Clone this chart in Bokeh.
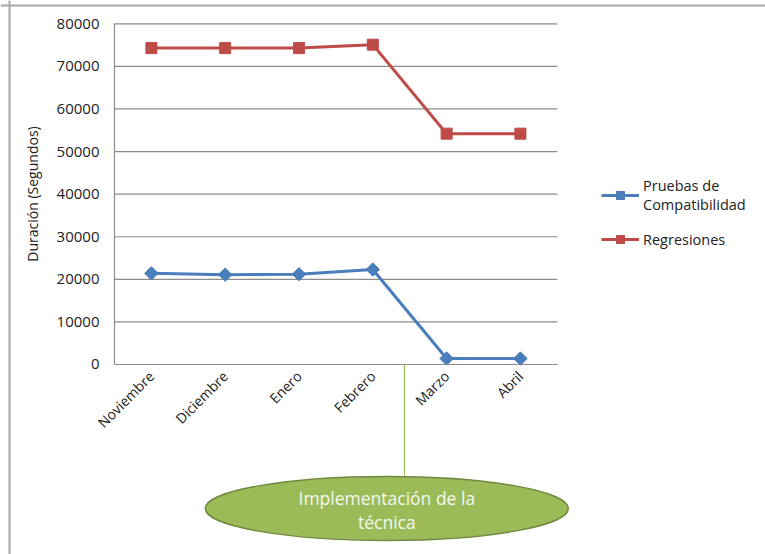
import numpy as np
from bokeh.plotting import figure
from bokeh.models import (LinearAxis, FixedTicker, Range1d, ColumnDataSource,
                          Legend, LegendItem, Span)
from bokeh.core.properties import value
from bokeh.embed import file_html
from bokeh.resources import INLINE

# ---- data ----
months = ["Noviembre", "Diciembre", "Enero", "Febrero", "Marzo", "Abril"]
pruebas = [21400, 21100, 21200, 22300, 1400, 1400]
regresiones = [74300, 74300, 74300, 75100, 54200, 54200]
y_ticks = [0, 10000, 20000, 30000, 40000, 50000, 60000, 70000, 80000]
legend_pruebas = "Pruebas de\nCompatibilidad"
legend_regresiones = "Regresiones"
callout_lines = ["Implementación de la", "técnica"]

# ---- annotation placement (data units) ----
marker_x = 4.43          # vertical connector between Febrero and Marzo
marker_bottom = -26064
ellipse_x = 4.19
ellipse_y = -33813

W, H = 765, 554
FONT = "Open Sans"

xpos = list(range(1, len(months) + 1))

p = figure(width=W, height=H, output_backend="svg", toolbar_location=None,
           x_axis_type=None, y_axis_type=None,
           x_range=Range1d(-1.0447, 9.3212), y_range=Range1d(-44614, 85471))
p.min_border = 0
p.min_border_left = 0
p.min_border_right = 0
p.min_border_top = 0
p.min_border_bottom = 0
p.outline_line_color = None
p.background_fill_color = "white"
p.border_fill_color = "white"

grid_color = "#8C8C8C"
text_color = "#222222"

# gridlines
gl = y_ticks[1:]
p.segment(x0=[0.5] * len(gl), x1=[6.5] * len(gl), y0=gl, y1=gl,
          line_color=grid_color, line_width=1.2)

# axes at fixed locations
yaxis = LinearAxis(fixed_location=0.5, bounds=(0, 80000),
                   ticker=FixedTicker(ticks=y_ticks))
yaxis.axis_line_color = grid_color
yaxis.axis_line_width = 1.2
yaxis.major_tick_line_color = None
yaxis.minor_tick_line_color = None
yaxis.major_tick_out = 0
yaxis.major_tick_in = 0
yaxis.major_label_standoff = 15
yaxis.major_label_text_font = FONT
yaxis.major_label_text_font_size = "15px"
yaxis.major_label_text_color = text_color
yaxis.axis_label = "Duración (Segundos)"
yaxis.axis_label_text_font = FONT
yaxis.axis_label_text_font_size = "14px"
yaxis.axis_label_text_font_style = "normal"
yaxis.axis_label_text_color = text_color
yaxis.axis_label_standoff = 12
p.add_layout(yaxis, "left")

xaxis = LinearAxis(fixed_location=0, bounds=(0.5, 6.5),
                   ticker=FixedTicker(ticks=xpos))
xaxis.major_label_overrides = {i: m for i, m in zip(xpos, months)}
xaxis.axis_line_color = grid_color
xaxis.axis_line_width = 1.2
xaxis.major_tick_line_color = None
xaxis.minor_tick_line_color = None
xaxis.major_tick_out = 0
xaxis.major_tick_in = 0
xaxis.major_label_standoff = 9
xaxis.major_label_orientation = np.pi / 4
xaxis.major_label_text_font = FONT
xaxis.major_label_text_font_size = "14px"
xaxis.major_label_text_color = text_color
p.add_layout(xaxis, "below")

# series
blue = "#4A7EBB"
red = "#BE4B48"
src = ColumnDataSource(dict(x=xpos, pruebas=pruebas, regresiones=regresiones))
bl = p.line("x", "pruebas", source=src, line_color=blue, line_width=3)
bm = p.scatter("x", "pruebas", source=src, marker="square", angle=np.pi / 4,
               size=9.5, fill_color=blue, line_color=blue)
rl = p.line("x", "regresiones", source=src, line_color=red, line_width=3)
rm = p.scatter("x", "regresiones", source=src, marker="square", size=11,
               fill_color=red, line_color=red)

# callout
p.segment(x0=[marker_x], x1=[marker_x], y0=[0], y1=[marker_bottom],
          line_color="#9BBB59", line_width=1.2)
p.ellipse(x=[ellipse_x], y=[ellipse_y], width=363, height=64,
          width_units="screen", height_units="screen",
          fill_color="#9BBB59", line_color="#71893F", line_width=1.5)
p.text(x=[ellipse_x, ellipse_x], y=[ellipse_y, ellipse_y], text=callout_lines,
       y_offset=[-11, 13],
       text_align="center", text_baseline="middle",
       text_font=value(FONT), text_font_size="17.5px",
       text_color="#F4F7EE")

# border (top & left)
p.add_layout(Span(location=-0.9228, dimension="height", line_color="#A6A6A6", line_width=2))
p.add_layout(Span(location=84297, dimension="width", line_color="#A6A6A6", line_width=2))

legend = Legend(items=[LegendItem(label=legend_pruebas, renderers=[bl, bm]),
                       LegendItem(label=legend_regresiones, renderers=[rl, rm])],
                location=(601, 305))
legend.border_line_color = None
legend.background_fill_alpha = 0
legend.label_text_font = FONT
legend.label_text_font_size = "14.5px"
legend.label_text_line_height = 1.35
legend.label_text_color = text_color
legend.glyph_width = 38
legend.glyph_height = 20
legend.label_standoff = 4
legend.spacing = 15
legend.padding = 4
legend.margin = 0
p.add_layout(legend, "center")

open("out.html", "w").write(file_html(p, INLINE))
